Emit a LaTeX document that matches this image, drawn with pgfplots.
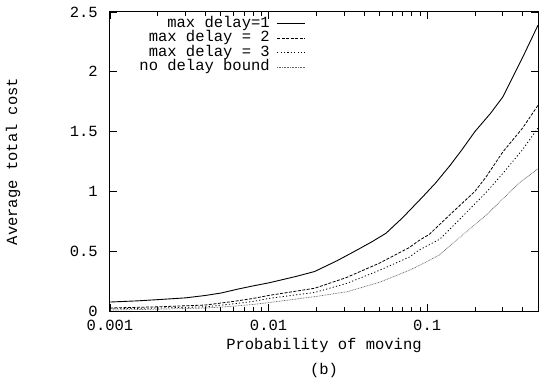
\documentclass[border=0pt]{standalone}
\usepackage{fontspec}
\setmainfont{Liberation Mono}
\usepackage{pgfplots}
\pgfplotsset{compat=1.18}
\begin{document}
\fontsize{15.5pt}{18pt}\selectfont
\begin{tikzpicture}
\begin{axis}[
  scale only axis, width=428pt, height=299pt,
  xmode=log, xmin=0.001, xmax=0.5, ymin=0, ymax=2.5,
  xtick={0.001,0.01,0.1}, xticklabels={0.001,0.01,0.1},
  minor xtick={0.002,0.003,0.004,0.005,0.006,0.007,0.008,0.009,0.02,0.03,0.04,0.05,0.06,0.07,0.08,0.09,0.2,0.3,0.4},
  ytick={0,0.5,1,1.5,2,2.5}, yticklabels={0,0.5,1,1.5,2,2.5},
  tick align=inside, major tick length=7pt, minor tick length=4pt,
  xtick pos=both, ytick pos=both,
  tick style={black, line width=0.7pt},
  tick label style={font=\fontsize{15.5pt}{18pt}\selectfont, inner sep=1pt},
  xticklabel style={yshift=-7.5pt},
  yticklabel style={xshift=-11pt},
  axis line style={line width=1pt},
  xlabel={Probability of moving}, ylabel={Average total cost},
  label style={font=\fontsize{15.5pt}{18pt}\selectfont},
  xlabel style={at={(axis description cs:0.5,0)}, anchor=center, yshift=-34pt},
  ylabel style={at={(axis description cs:-0.2266,0.5)}, anchor=center, rotate=0},
  legend style={draw=none, fill=none, at={(axis description cs:0.457,0.985)}, anchor=north east,
    inner sep=0pt, outer sep=0pt, row sep=0pt, column sep=6pt,
    nodes={inner sep=1pt, text height=10pt, text depth=2.5pt, font=\fontsize{15.5pt}{18pt}\selectfont}},
  legend cell align=right,
  legend plot pos=right,
  legend image code/.code={\draw[#1] (0pt,0pt) -- (28pt,0pt);},
]
\addplot[black, line width=0.9pt] coordinates {
(0.001,0.075) (0.0015,0.085) (0.002,0.095) (0.003,0.11) (0.004,0.13) (0.005,0.15)
(0.0065,0.185) (0.008,0.21) (0.01,0.235) (0.0125,0.265) (0.015,0.29) (0.0195,0.33)
(0.027,0.42) (0.035,0.5) (0.045,0.58) (0.055,0.65) (0.07,0.78) (0.093,0.95) (0.113,1.07)
(0.14,1.22) (0.166,1.35) (0.2,1.5) (0.25,1.65) (0.3,1.79) (0.4,2.12) (0.5,2.39)};
\addlegendentry{max delay=1}
\addplot[black, line width=0.8pt, dash pattern=on 3pt off 1.5pt] coordinates {
(0.001,0.025) (0.002,0.035) (0.004,0.05) (0.006,0.08) (0.008,0.105) (0.01,0.13)
(0.0195,0.19) (0.031,0.28) (0.05,0.40) (0.077,0.53) (0.089,0.59) (0.103,0.64)
(0.143,0.82) (0.2,1.0) (0.235,1.12) (0.3,1.33) (0.4,1.53) (0.5,1.72)};
\addlegendentry{max delay = 2}
\addplot[black, line width=0.8pt, dash pattern=on 1.2pt off 2.2pt] coordinates {
(0.001,0.018) (0.002,0.025) (0.004,0.035) (0.006,0.06) (0.008,0.08) (0.01,0.105)
(0.0195,0.155) (0.031,0.23) (0.05,0.34) (0.077,0.45) (0.089,0.51) (0.12,0.6)
(0.143,0.7) (0.235,0.99) (0.3,1.15) (0.4,1.35) (0.5,1.53)};
\addlegendentry{max delay = 3}
\addplot[black!60, line width=0.7pt, dash pattern=on 0.8pt off 0.8pt] coordinates {
(0.001,0.008) (0.002,0.015) (0.004,0.025) (0.006,0.04) (0.008,0.055) (0.01,0.07)
(0.0195,0.12) (0.031,0.16) (0.05,0.24) (0.077,0.34) (0.089,0.38) (0.12,0.47)
(0.143,0.56) (0.235,0.80) (0.38,1.07) (0.5,1.19)};
\addlegendentry{no delay bound}
\end{axis}
\node at ([yshift=-59pt]current axis.south) {(b)};
\path ([shift={(-110pt,-71pt)}]current axis.south west) rectangle ([shift={(1pt,12pt)}]current axis.north east);
\end{tikzpicture}
\end{document}
